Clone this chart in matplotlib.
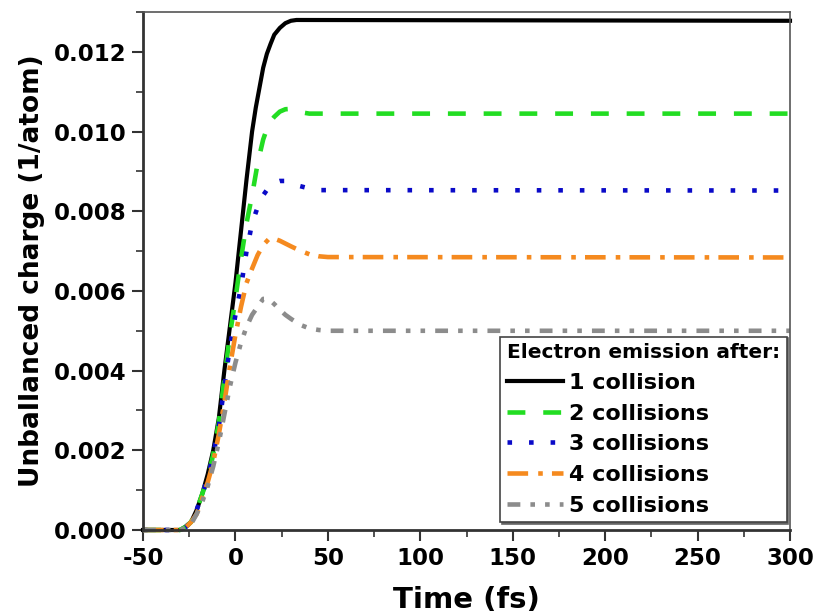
import matplotlib
matplotlib.use("Agg")
import matplotlib.pyplot as plt
from matplotlib.ticker import MultipleLocator, FormatStrFormatter

# time axis (fs) for each curve
t_1 = [-50, -30, -27, -24, -21, -18, -15, -12, -9, -6, -3, 0, 3, 6, 9, 11, 13, 15, 17, 19, 21, 24, 27, 30, 33, 300]
q_1 = [0, 0, 0.00008, 0.0002, 0.0005, 0.0009, 0.0014, 0.0020, 0.0028, 0.0040, 0.0051, 0.0062, 0.0075, 0.0088, 0.0100,
       0.0106, 0.0111, 0.0116, 0.01195, 0.0122, 0.01243, 0.0126, 0.01272, 0.01278, 0.0128, 0.01278]

t_2 = [-50, -30, -27, -24, -21, -18, -15, -12, -9, -6, -3, 0, 3, 6, 9, 12, 15, 18, 21, 24, 27, 30, 33, 36, 40, 300]
q_2 = [0, 0, 0.00008, 0.0002, 0.0005, 0.0009, 0.0013, 0.0019, 0.0027, 0.0038, 0.0049, 0.0058, 0.0068, 0.0077, 0.0084,
       0.0092, 0.0098, 0.0102, 0.01037, 0.0105, 0.01056, 0.01057, 0.01053, 0.01048, 0.01045, 0.01045]

t_3 = [-50, -30, -27, -24, -21, -18, -15, -12, -9, -6, -3, 0, 3, 6, 9, 12, 15, 18, 21, 24, 27, 30, 35, 40, 45, 300]
q_3 = [0, 0, 0.00007, 0.0002, 0.0005, 0.0009, 0.0013, 0.0019, 0.0026, 0.0036, 0.0046, 0.0054, 0.0061, 0.0070, 0.0077,
       0.0081, 0.0084, 0.0086, 0.00872, 0.00876, 0.00876, 0.00872, 0.00863, 0.00857, 0.00853, 0.00852]

t_4 = [-50, -30, -27, -24, -21, -18, -15, -12, -9, -6, -3, 0, 3, 6, 9, 12, 15, 18, 21, 24, 27, 30, 35, 40, 45, 50, 300]
q_4 = [0, 0, 0.00006, 0.0002, 0.0004, 0.0008, 0.0012, 0.0017, 0.0024, 0.0032, 0.0041, 0.0049, 0.0056, 0.0062, 0.00656,
       0.0069, 0.00715, 0.0073, 0.00731, 0.00726, 0.00719, 0.00712, 0.00701, 0.00692, 0.00687, 0.00685, 0.00684]

t_5 = [-50, -30, -27, -24, -21, -18, -15, -12, -9, -6, -3, 0, 3, 6, 9, 12, 15, 18, 21, 24, 27, 30, 35, 40, 45, 50, 300]
q_5 = [0, 0, 0.00005, 0.00015, 0.0004, 0.0007, 0.0011, 0.0016, 0.0022, 0.0029, 0.0036, 0.0042, 0.0047, 0.0051, 0.0054,
       0.0056, 0.0058, 0.0058, 0.00567, 0.00553, 0.0054, 0.0053, 0.00515, 0.00506, 0.00502, 0.0050, 0.0050]

labels = ["1 collision", "2 collisions", "3 collisions", "4 collisions", "5 collisions"]

plt.rcParams['font.family'] = ['DejaVu Sans']
plt.rcParams['font.weight'] = 'bold'
plt.rcParams['axes.unicode_minus'] = False

fig = plt.figure(figsize=(8.14, 6.13), dpi=100)
ax = fig.add_axes([0.1757, 0.1354, 0.7948, 0.845])

ax.plot(t_1, q_1, color='black', lw=3.0, label=labels[0], clip_on=False)
ax.plot(t_2, q_2, color='#22dd22', lw=3.3, dashes=(3.9, 3.9), label=labels[1], clip_on=False)
ax.plot(t_3, q_3, color='#0a0ac8', lw=3.3, dashes=(1.0, 3.7), label=labels[2], clip_on=False)
ax.plot(t_4, q_4, color='#f58a1f', lw=3.3, dashes=(4.5, 2.2, 1.0, 2.0), label=labels[3], clip_on=False)
ax.plot(t_5, q_5, color='#8c8c8c', lw=3.3, dashes=(2.8, 2.2, 1.0, 2.2, 1.0, 2.2), label=labels[4], clip_on=False)

ax.set_xlim(-50, 300)
ax.set_ylim(0, 0.013)
ax.xaxis.set_major_locator(MultipleLocator(50))
ax.xaxis.set_minor_locator(MultipleLocator(25))
ax.yaxis.set_major_locator(MultipleLocator(0.002))
ax.yaxis.set_minor_locator(MultipleLocator(0.001))
ax.yaxis.set_major_formatter(FormatStrFormatter('%.3f'))

ax.tick_params(which='both', direction='out', top=False, right=False, color='#333333')
ax.tick_params(which='major', length=8, width=1.5, labelsize=16.5, pad=4)
ax.tick_params(which='minor', length=5, width=1.2)
for lab in ax.get_xticklabels() + ax.get_yticklabels():
    lab.set_fontweight('bold')

for side in ['left', 'bottom']:
    ax.spines[side].set_linewidth(2.0)
    ax.spines[side].set_color('#333333')
for side in ['top', 'right']:
    ax.spines[side].set_linewidth(1.2)
    ax.spines[side].set_color('#555555')

ax.set_xlabel("Time (fs)", fontsize=21, fontweight='bold', labelpad=12)
ax.set_ylabel("Unballanced charge (1/atom)", fontsize=19, fontweight='bold', labelpad=6)

leg = ax.legend(loc='lower right', bbox_to_anchor=(0.995, 0.015), borderaxespad=0,
                title="Electron emission after:", fancybox=False, framealpha=1,
                edgecolor='#444444', prop={'size': 16, 'weight': 'bold'},
                title_fontproperties={'size': 14.5, 'weight': 'bold'},
                handlelength=2.5, handletextpad=0.3, labelspacing=0.48,
                borderpad=0.3, alignment='left',
                shadow={'ox': 1.0, 'oy': -1.0, 'color': '#666666', 'alpha': 1})
leg.get_frame().set_linewidth(1.2)

fig.savefig("out.png", dpi=100)
